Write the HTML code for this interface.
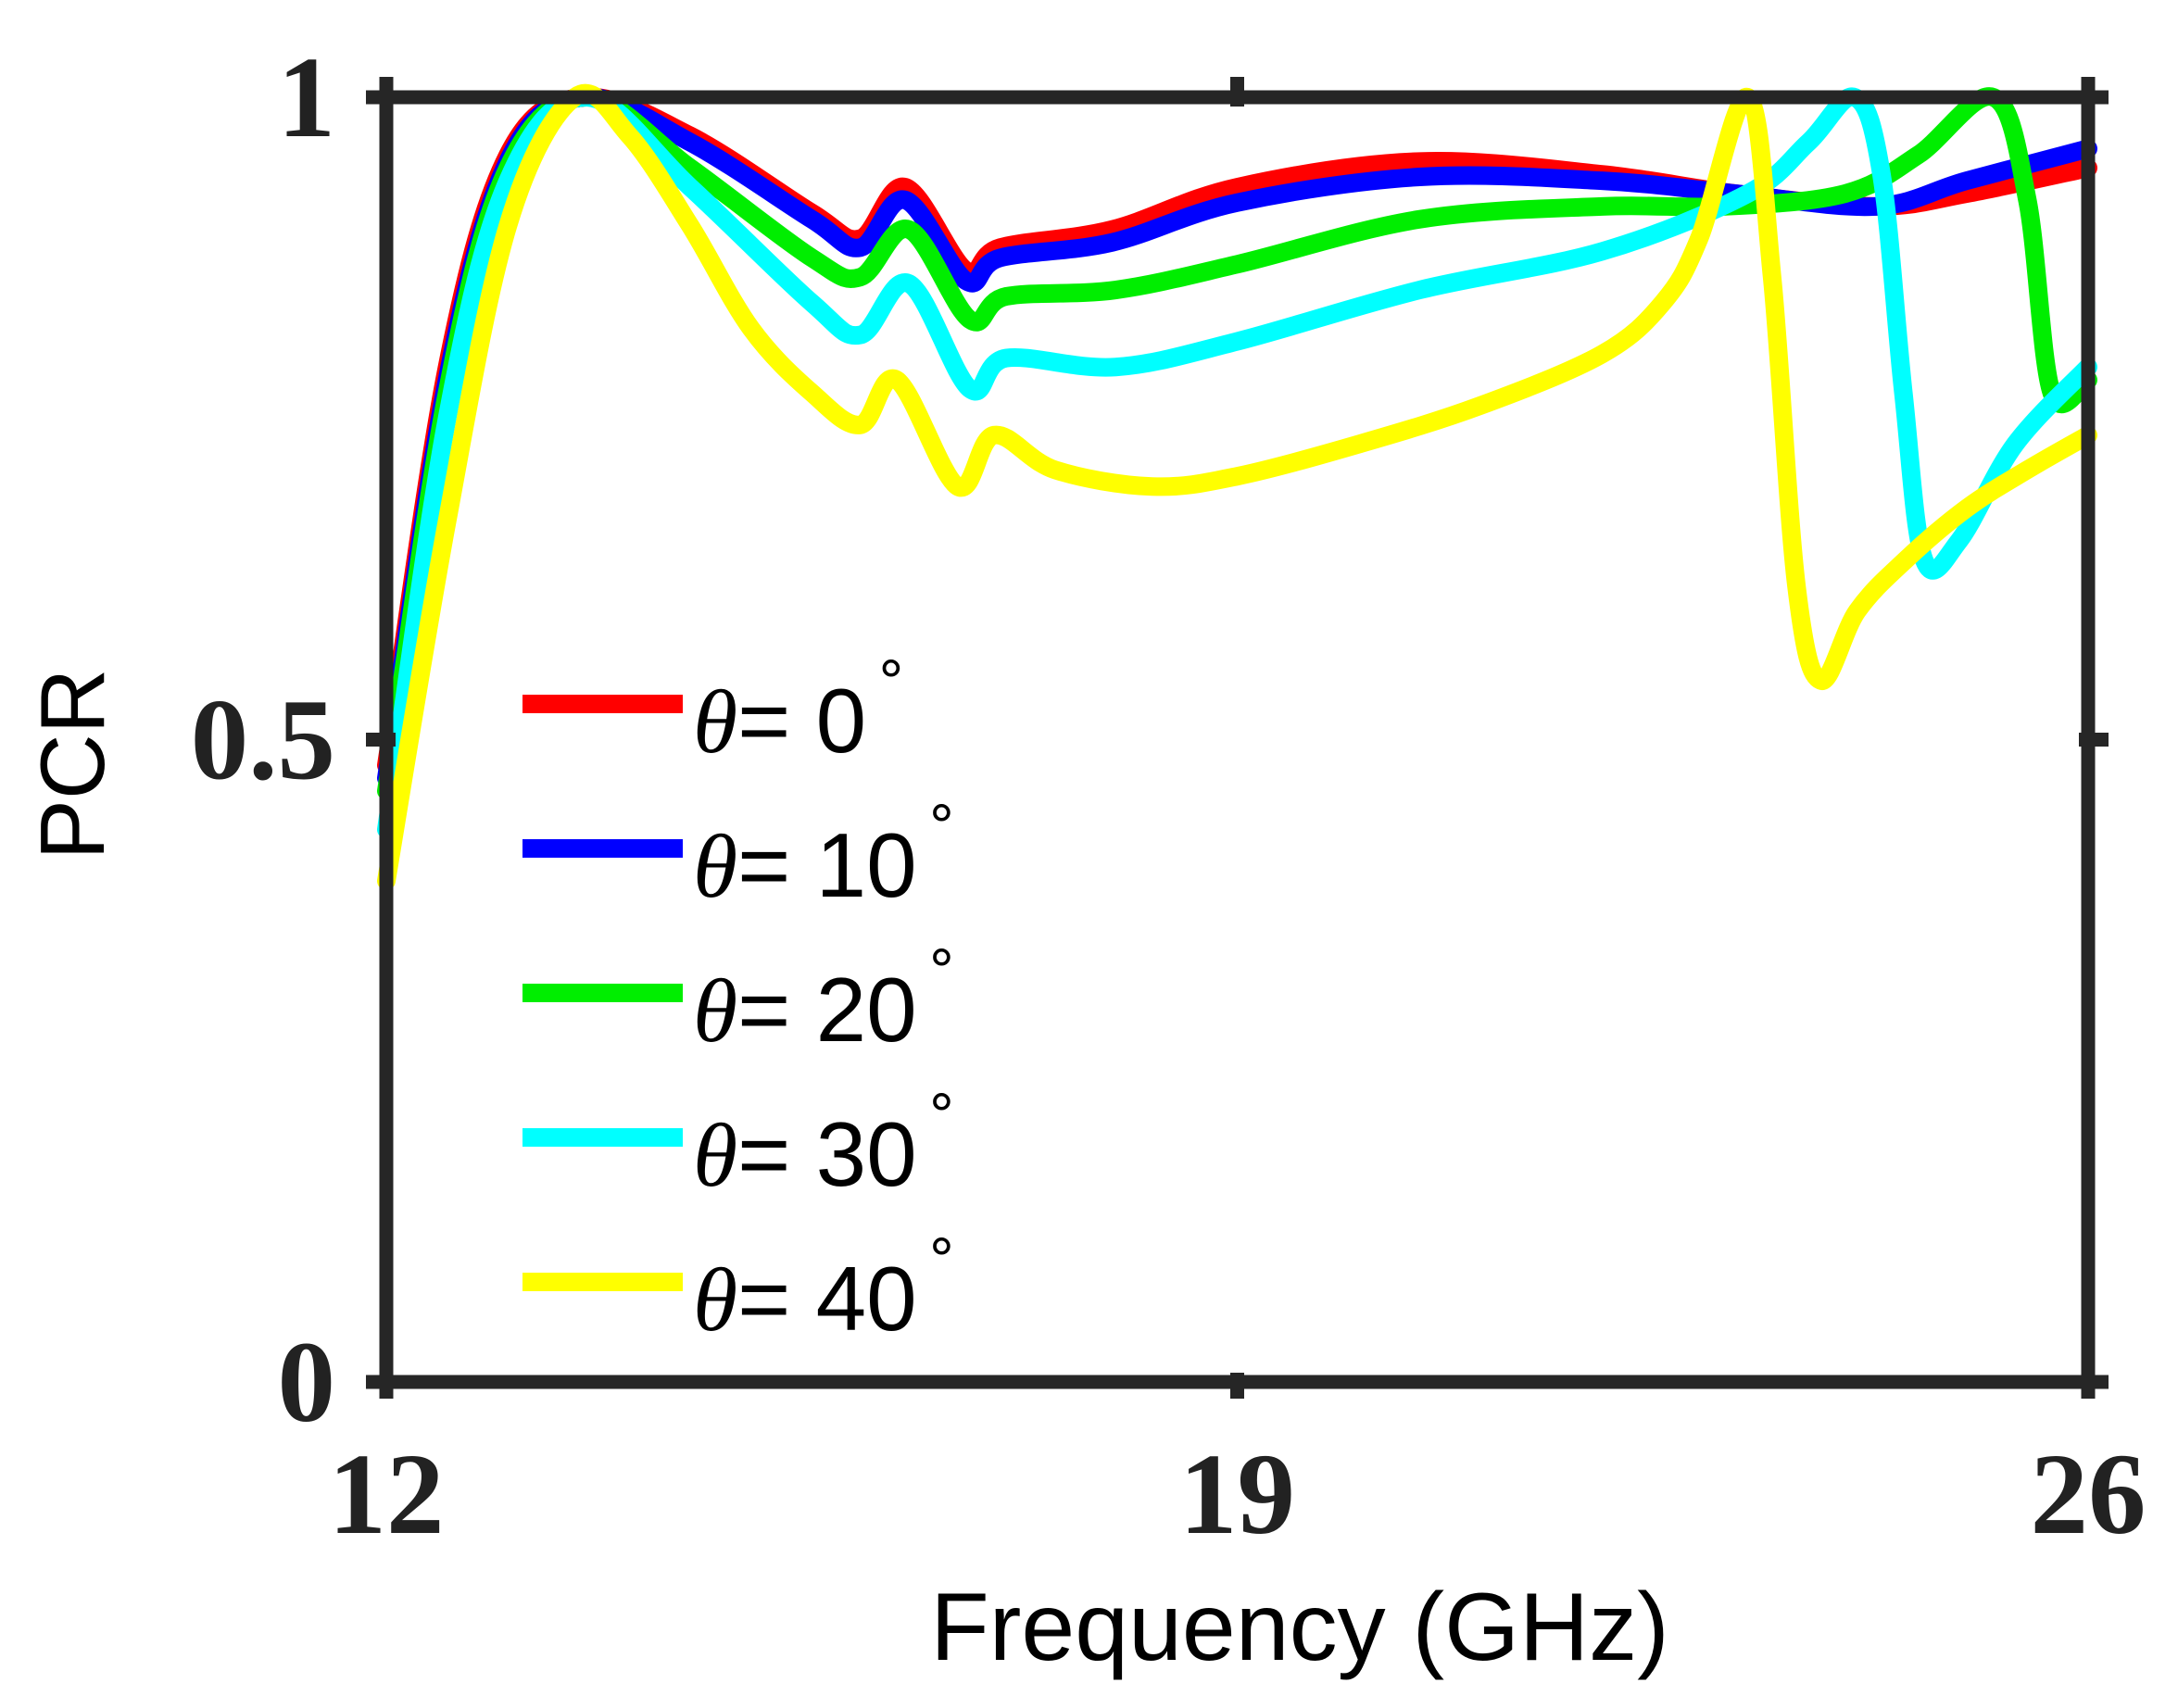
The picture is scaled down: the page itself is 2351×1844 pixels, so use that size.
<!DOCTYPE html>
<html><head><meta charset="utf-8"><style>
html,body{margin:0;padding:0;background:#fff;}
svg{display:block;}
</style></head><body>
<svg id="chart" width="2351" height="1844" viewBox="0 0 2351 1844" xmlns="http://www.w3.org/2000/svg">
<g id="series"></g>
<g id="axes"></g>
<g id="legend"></g>
</svg>
<script>
const xTicks = [12, 19, 26];
const yTicks = [0, 0.5, 1];
const yTickLabels = ["0", "0.5", "1"];
const seriesNames = ["θ= 0", "θ= 10", "θ= 20", "θ= 30", "θ= 40"];
const seriesColors = ["#ff0000", "#0000ff", "#00ee00", "#00ffff", "#ffff00"];
const f0 = [12, 12.5, 13, 13.62, 14.5, 15.5, 15.9, 16.27, 16.77, 17.05, 17.97, 19, 20.5, 22, 23.1, 24.25, 25, 26];
const v0 = [0.48, 0.79, 0.955, 1.0, 0.97, 0.91, 0.89, 0.93, 0.865, 0.883, 0.897, 0.93, 0.95, 0.94, 0.925, 0.915, 0.925, 0.945];
const f1 = [12, 12.5, 13, 13.62, 14.5, 15.5, 15.9, 16.27, 16.77, 17.05, 17.97, 19, 20.5, 22, 23.1, 24.25, 25, 26];
const v1 = [0.47, 0.78, 0.95, 1.0, 0.965, 0.905, 0.883, 0.92, 0.857, 0.875, 0.887, 0.918, 0.938, 0.935, 0.925, 0.915, 0.935, 0.96];
const f2 = [12, 12.5, 13, 13.65, 14.5, 15.5, 15.9, 16.3, 16.8, 17.1, 18, 19, 20.5, 22, 23, 24, 24.6, 25.22, 25.5, 25.7, 26];
const v2 = [0.46, 0.77, 0.945, 1.0, 0.945, 0.875, 0.86, 0.897, 0.827, 0.845, 0.85, 0.87, 0.905, 0.915, 0.915, 0.925, 0.955, 1.0, 0.92, 0.77, 0.78];
const f3 = [12, 12.5, 13, 13.65, 14.5, 15.5, 15.9, 16.3, 16.8, 17.1, 18, 19, 20.5, 22, 23.2, 23.7, 24.08, 24.3, 24.48, 24.65, 24.94, 25.4, 26];
const v3 = [0.43, 0.75, 0.935, 1.0, 0.93, 0.84, 0.815, 0.855, 0.773, 0.797, 0.79, 0.81, 0.85, 0.88, 0.925, 0.965, 1.0, 0.94, 0.77, 0.64, 0.655, 0.73, 0.79];
const f4 = [12, 12.5, 13, 13.55, 14, 14.5, 15, 15.5, 15.9, 16.2, 16.7, 17.0, 17.5, 18.3, 19, 20, 21, 22, 22.5, 22.8, 23.2, 23.4, 23.6, 23.8, 24.1, 24.5, 25, 25.5, 26];
const v4 = [0.39, 0.67, 0.9, 1.0, 0.97, 0.9, 0.82, 0.77, 0.745, 0.78, 0.697, 0.737, 0.71, 0.697, 0.705, 0.73, 0.76, 0.8, 0.84, 0.89, 1.0, 0.86, 0.62, 0.546, 0.6, 0.64, 0.68, 0.71, 0.737];
const freqs = [f0, f1, f2, f3, f4];
const vals = [v0, v1, v2, v3, v4];

const X0 = 417, X1 = 2254, Y0 = 1492, Y1 = 105;
function xs(f){ return X0 + (f - 12) / 14 * (X1 - X0); }
function ys(v){ return Y0 - v * (Y0 - Y1); }
const NS = "http://www.w3.org/2000/svg";
function mk(tag, attrs, parent){
  const e = document.createElementNS(NS, tag);
  for (const k in attrs) e.setAttribute(k, attrs[k]);
  parent.appendChild(e); return e;
}
function smoothPath(pts){
  let d = "M" + pts[0][0] + "," + pts[0][1];
  for (let i = 0; i < pts.length - 1; i++){
    const p0 = pts[Math.max(0, i-1)], p1 = pts[i], p2 = pts[i+1], p3 = pts[Math.min(pts.length-1, i+2)];
    const t = 0.17;
    const c1x = p1[0] + (p2[0]-p0[0])*t, c1y = p1[1] + (p2[1]-p0[1])*t;
    const c2x = p2[0] - (p3[0]-p1[0])*t, c2y = p2[1] - (p3[1]-p1[1])*t;
    d += " C" + c1x + "," + c1y + " " + c2x + "," + c2y + " " + p2[0] + "," + p2[1];
  }
  return d;
}
const sg = document.getElementById("series");
const order = [0, 1, 2, 3, 4];
order.forEach(i => {
  const pts = freqs[i].map((f, j) => [xs(f), ys(vals[i][j])]);
  const p = mk("path", {d: smoothPath(pts), fill: "none", stroke: seriesColors[i], "stroke-width": 20, "stroke-linejoin": "round", "stroke-linecap": "round"}, sg);
  
  
});

const ag = document.getElementById("axes");
const box = mk("rect", {x: X0, y: Y1, width: X1 - X0, height: Y0 - Y1, fill: "none", stroke: "#262626", "stroke-width": 15}, ag);


xTicks.forEach(t => {
  const x = xs(t);
  const tk = mk("line", {x1: x, y1: Y0 + 18, x2: x, y2: Y0 - 10, stroke: "#262626", "stroke-width": 15}, ag);
  
  
  const tk2 = mk("line", {x1: x, y1: Y1 - 22, x2: x, y2: Y1 + 10, stroke: "#262626", "stroke-width": 15}, ag);
  
  
  const tx = mk("text", {x: x, y: 1655, "text-anchor": "middle", "font-family": "Liberation Serif, serif", "font-weight": "bold", "font-size": 125, fill: "#222"}, ag);
  tx.textContent = String(t);
  
  
});
yTicks.forEach((t, i) => {
  const y = ys(t);
  const tk = mk("line", {x1: X0 - 22, y1: y, x2: X0 + 10, y2: y, stroke: "#262626", "stroke-width": 15}, ag);
  
  
  const tk2 = mk("line", {x1: X1 - 10, y1: y, x2: X1 + 22, y2: y, stroke: "#262626", "stroke-width": 15}, ag);
  
  
  const tx = mk("text", {x: 362, y: y + 42, "text-anchor": "end", "font-family": "Liberation Serif, serif", "font-weight": "bold", "font-size": 125, fill: "#222"}, ag);
  tx.textContent = yTickLabels[i];
  
  
});
const xt = mk("text", {x: 1403, y: 1792, "text-anchor": "middle", "font-family": "Liberation Sans, sans-serif", "font-size": 104, fill: "#000"}, ag);
xt.textContent = "Frequency (GHz)";


const yt = mk("text", {x: 0, y: 0, transform: "translate(112,825) rotate(-90)", "text-anchor": "middle", "font-family": "Liberation Sans, sans-serif", "font-size": 98, fill: "#000"}, ag);
yt.textContent = "PCR";



const lg = document.getElementById("legend");
seriesNames.forEach((n, i) => {
  const y = 760 + i * 156;
  const g = mk("g", {}, lg);
  
  
  const l = mk("line", {x1: 564, y1: y, x2: 737, y2: y, stroke: seriesColors[i], "stroke-width": 20}, g);
  
  
  const t = mk("text", {x: 748, y: y + 52, "font-family": "Liberation Sans, sans-serif", "font-size": 98, fill: "#000"}, g);
  
  
  const th = mk("tspan", {"font-family": "Liberation Serif, serif", "font-style": "italic"}, t);
  th.textContent = "θ";
  const rest = mk("tspan", {}, t);
  rest.textContent = n.slice(1);
  const dg = mk("tspan", {dx: 8, dy: -72, "font-size": 60}, t);
  dg.textContent = "∘";
});
</script>
</body></html>
